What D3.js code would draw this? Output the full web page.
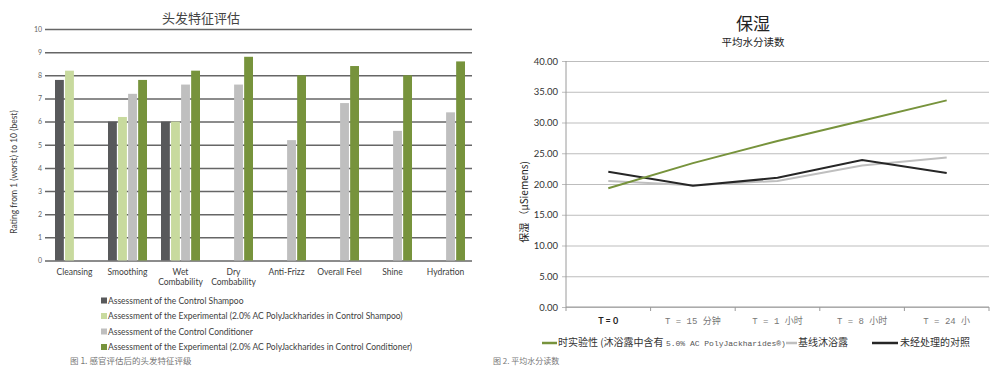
<!DOCTYPE html>
<html><head><meta charset="utf-8">
<script src="https://cdn.jsdelivr.net/npm/d3@7"></script>
<style>
html,body{margin:0;padding:0;background:#fff;}
svg{display:block;}
text{font-family:Lato,"Open Sans","Noto Sans CJK SC",sans-serif;}
</style></head>
<body>
<svg id="c" width="1000" height="369"></svg>
<script>
// ---------- Chart 1 data ----------
const categories = ["Cleansing","Smoothing","Wet|Combability","Dry|Combability","Anti-Frizz","Overall Feel","Shine","Hydration"];
const controlShampoo = [7.8, 6.0, 6.0, null, null, null, null, null];
const experimentalShampoo = [8.2, 6.2, 6.0, null, null, null, null, null];
const controlConditioner = [null, 7.2, 7.6, 7.6, 5.2, 6.8, 5.6, 6.4];
const experimentalConditioner = [null, 7.8, 8.2, 8.8, 8.0, 8.4, 8.0, 8.6];
const barSeriesNames = [
  "Assessment of the Control Shampoo",
  "Assessment of the Experimental (2.0% AC PolyJackharides in Control Shampoo)",
  "Assessment of the Control Conditioner",
  "Assessment of the Experimental (2.0% AC PolyJackharides in Control Conditioner)"
];
const barColors = ["#58595b", "#c8da9e", "#bfbfbf", "#77933c"];
const ratingTicks = [0,1,2,3,4,5,6,7,8,9,10];

// ---------- Chart 2 data ----------
const timePoints = ["T = 0", "T = 15 分钟", "T = 1 小时", "T = 8 小时", "T = 24 小"];
const experimentalWash = [19.3, 23.4, 27.0, 30.3, 33.6];
const baselineWash = [20.5, 19.8, 20.5, 23.0, 24.3];
const untreatedControl = [22.0, 19.7, 21.0, 23.9, 21.8];
const lineSeriesNames = ["时实验性 (沐浴露中含有 ", "基线沐浴露", "未经处理的对照"];
const lineColors = ["#77933c", "#bfbfbf", "#262626"];
const moistureTicks = [0,5,10,15,20,25,30,35,40];

const svg = d3.select("#c");

// ================= Chart 1 =================
const g1 = svg.append("g");
const x1 = d3.scaleBand().domain(categories).range([48, 472]);
const y1 = d3.scaleLinear().domain([0, 10]).range([260.5, 29]);
const xs = d3.scaleBand().domain([0,1,2,3]).range([0, 39]).paddingInner(0.12);

g1.append("text").attr("x", 201).attr("y", 23).attr("text-anchor","middle")
  .attr("font-size", 13).attr("fill", "#444").style("font-family","'Noto Sans CJK SC'")
  .text("头发特征评估");

const ax1 = d3.axisLeft(y1).tickValues(ratingTicks).tickSize(-(472-48)).tickPadding(6).tickFormat(d3.format("d"));
const ga1 = g1.append("g").attr("transform","translate(48,0)").call(ax1);
ga1.select(".domain").remove();
ga1.selectAll(".tick line").attr("stroke","#666").attr("stroke-width",1.5).attr("x1",-3);
ga1.selectAll(".tick text").attr("font-size",7).attr("fill","#666").style("font-family","Lato");

const seriesArr = [controlShampoo, experimentalShampoo, controlConditioner, experimentalConditioner];
seriesArr.forEach((vals, si) => {
  g1.append("g").selectAll("rect").data(vals.map((v,i)=>({v, c:categories[i]})).filter(d=>d.v!=null))
    .join("rect")
    .attr("x", d => x1(d.c) + x1.bandwidth()/2 - 19.5 + xs(si))
    .attr("width", xs.bandwidth())
    .attr("y", d => y1(d.v))
    .attr("height", d => y1(0) - y1(d.v))
    .attr("fill", barColors[si]);
});

categories.forEach(c => {
  const lines = c.split("|");
  const t = g1.append("text").attr("text-anchor","middle").attr("font-size",8.5).attr("fill","#404040")
    .attr("x", x1(c) + x1.bandwidth()/2).attr("y", 274.5);
  lines.forEach((l,i) => t.append("tspan").attr("x", x1(c) + x1.bandwidth()/2).attr("dy", i===0?0:10.5).text(l));
});

g1.append("text").attr("transform","translate(17,172) rotate(-90)").attr("text-anchor","middle")
  .attr("font-size",8.5).attr("fill","#404040").text("Rating from 1 (worst) to 10 (best)");

barSeriesNames.forEach((n,i) => {
  const yy = 300.5 + i*15.5;
  g1.append("rect").attr("x",101).attr("y",yy-3).attr("width",6).attr("height",6).attr("fill",barColors[i]);
  g1.append("text").attr("x",108).attr("y",yy+3).attr("font-size",8.5).attr("fill","#404040").text(n);
});

g1.append("text").attr("x",70).attr("y",364).attr("font-size",8.5).attr("fill","#777")
  .style("font-family","'Noto Sans CJK SC'").text("图 1.  感官评估后的头发特征评级");

// ================= Chart 2 =================
const g2 = svg.append("g");
const x2 = d3.scaleBand().domain(timePoints).range([566, 989]);
const y2 = d3.scaleLinear().domain([0, 40]).range([307, 61]);

g2.append("text").attr("x",753).attr("y",30).attr("text-anchor","middle").attr("font-size",17)
  .attr("fill","#222").style("font-family","'Noto Sans CJK SC'").text("保湿");
g2.append("text").attr("x",753).attr("y",46).attr("text-anchor","middle").attr("font-size",10.5)
  .attr("fill","#222").style("font-family","'Noto Sans CJK SC'").text("平均水分读数");

const ax2 = d3.axisLeft(y2).tickValues(moistureTicks).tickSize(-(989-566)).tickPadding(8).tickFormat(d3.format(".2f"));
const ga2 = g2.append("g").attr("transform","translate(566,0)").call(ax2);
ga2.select(".domain").remove();
ga2.selectAll(".tick line").attr("stroke","#bdbdbd").attr("stroke-width",1).attr("x1",-4);
ga2.selectAll(".tick text").attr("font-size",9.5).attr("fill","#333").style("font-family","Lato");

g2.append("line").attr("x1",566).attr("x2",566).attr("y1",61).attr("y2",307).attr("stroke","#9a9a9a");
g2.append("line").attr("x1",566).attr("x2",989).attr("y1",307).attr("y2",307).attr("stroke","#9a9a9a");
const bounds = timePoints.map(t => x2(t)).concat([x2.range()[1]]);
g2.selectAll(".xtick").data(bounds).join("line").attr("x1",d=>d).attr("x2",d=>d)
  .attr("y1",307).attr("y2",311).attr("stroke","#9a9a9a");

timePoints.forEach((t,i) => {
  const tx = g2.append("text").attr("x", x2(t)+x2.bandwidth()/2).attr("y",324).attr("text-anchor","middle");
  if (i===0) tx.attr("font-size",9).attr("font-weight","bold").attr("fill","#222").style("font-family","Lato").text("T = 0");
  else tx.attr("font-size",9).attr("fill","#777").style("font-family","'Liberation Mono','Noto Sans CJK SC'").text(t);
});

g2.append("text").attr("transform","translate(528,202) rotate(-90)").attr("text-anchor","middle")
  .attr("font-size",10).attr("fill","#222").style("font-family","'Noto Sans CJK SC'")
  .text("保湿 （μSiemens)");

const lineGen = d3.line().x((d,i)=>x2(timePoints[i])+x2.bandwidth()/2).y(d=>y2(d));
[[baselineWash,1],[untreatedControl,2],[experimentalWash,0]].forEach(([vals, idx]) => {
  g2.append("path").attr("d", lineGen(vals)).attr("fill","none")
    .attr("stroke", lineColors[idx]).attr("stroke-width", 2);
});

const ly = 346;
g2.append("line").attr("x1",542).attr("x2",557).attr("y1",ly-3).attr("y2",ly-3).attr("stroke",lineColors[0]).attr("stroke-width",2.5);
const lt = g2.append("text").attr("x",558).attr("y",ly).attr("font-size",10).attr("fill","#333").style("font-family","'Noto Sans CJK SC'");
lt.append("tspan").text(lineSeriesNames[0]);
lt.append("tspan").attr("font-size",8).attr("fill","#555").style("font-family","'Liberation Mono','Noto Sans CJK SC'").text("5.0% AC PolyJackharides®)");
g2.append("line").attr("x1",786).attr("x2",797).attr("y1",ly-3).attr("y2",ly-3).attr("stroke",lineColors[1]).attr("stroke-width",2.5);
g2.append("text").attr("x",798).attr("y",ly).attr("font-size",10).attr("fill","#333").style("font-family","'Noto Sans CJK SC'").text(lineSeriesNames[1]);
g2.append("line").attr("x1",872).attr("x2",898).attr("y1",ly-3).attr("y2",ly-3).attr("stroke",lineColors[2]).attr("stroke-width",2.5);
g2.append("text").attr("x",900).attr("y",ly).attr("font-size",10).attr("fill","#333").style("font-family","'Noto Sans CJK SC'").text(lineSeriesNames[2]);

g2.append("text").attr("x",493).attr("y",364).attr("font-size",8).attr("fill","#777")
  .style("font-family","'Noto Sans CJK SC'").text("图 2.  平均水分读数");
</script>
</body></html>
